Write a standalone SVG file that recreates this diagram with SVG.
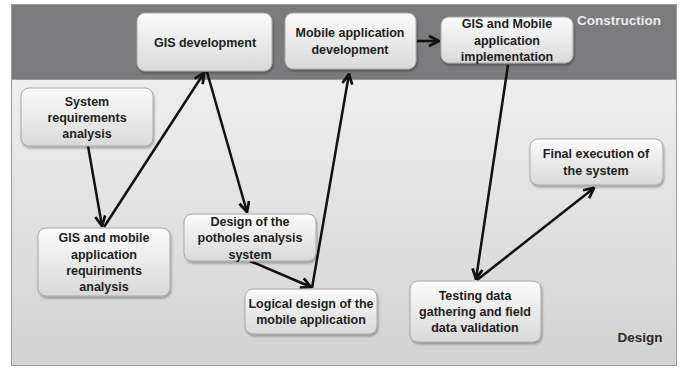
<svg xmlns="http://www.w3.org/2000/svg" width="684" height="369" viewBox="0 0 684 369">
<defs>
<linearGradient id="bg" x1="0" y1="0" x2="0" y2="1">
<stop offset="0" stop-color="#f6f6f6"/>
<stop offset="1" stop-color="#d2d2d3"/>
</linearGradient>
<linearGradient id="box" x1="0" y1="0" x2="0" y2="1">
<stop offset="0" stop-color="#fbfbfb"/>
<stop offset="1" stop-color="#d9d9d9"/>
</linearGradient>
<filter id="sh" x="-10%" y="-10%" width="125%" height="130%">
<feDropShadow dx="1" dy="2" stdDeviation="1.2" flood-color="#000" flood-opacity="0.3"/>
</filter>
<marker id="ah" viewBox="0 0 10 10" refX="9" refY="5" markerWidth="5" markerHeight="5" orient="auto" markerUnits="strokeWidth">
<path d="M1,1 L9,5 L1,9" fill="none" stroke="#111" stroke-width="2.2" stroke-linejoin="miter"/>
</marker>
</defs>
<style>
.node rect{fill:url(#box);stroke:#a8a8a8;stroke-width:1;filter:url(#sh)}
.node text{font-family:"Liberation Sans",Arial,sans-serif;font-weight:bold;font-size:12.5px;fill:#1e1e1e;text-anchor:middle}
.lbl{font-family:"Liberation Sans",Arial,sans-serif;font-weight:bold;font-size:13.5px}
#connectors line{stroke:#111;stroke-width:2.5;marker-end:url(#ah)}
</style>
<g id="background">
<rect x="11.5" y="4.5" width="665" height="361" fill="url(#bg)" stroke="#9a9a9a" stroke-width="1"/>
<rect x="11.5" y="4.5" width="665" height="75" fill="#7b7b7d" stroke="#9a9a9a" stroke-width="1"/>
<text class="lbl" x="619" y="25" text-anchor="middle" fill="#ececec">Construction</text>
<text class="lbl" x="640" y="342" text-anchor="middle" fill="#2a2a2a">Design</text>
</g>
<g id="connectors">
<line x1="88" y1="146" x2="102" y2="226"/>
<line x1="104" y1="227" x2="204" y2="73"/>
<line x1="207" y1="72" x2="247" y2="212"/>
<line x1="250" y1="261" x2="311" y2="287"/>
<line x1="312" y1="288" x2="349" y2="74"/>
<line x1="417" y1="41" x2="439" y2="41"/>
<line x1="508" y1="65" x2="476" y2="279"/>
<line x1="477" y1="280" x2="594" y2="188"/>
</g>
<g id="gis-dev" class="node">
<rect x="137" y="13" width="135" height="58" rx="8"/>
<text x="205" y="47">GIS development</text>
</g>
<g id="mobile-dev" class="node">
<rect x="285" y="13" width="131" height="56" rx="8"/>
<text x="350" y="37">Mobile application</text>
<text x="350" y="54">development</text>
</g>
<g id="impl" class="node">
<rect x="441" y="17" width="132" height="46" rx="8"/>
<text x="507" y="28">GIS and Mobile</text>
<text x="507" y="45">application</text>
<text x="507" y="61">implementation</text>
</g>
<g id="sys-req" class="node">
<rect x="21" y="88" width="132" height="58" rx="8"/>
<text x="87" y="106">System</text>
<text x="87" y="122">requirements</text>
<text x="87" y="138">analysis</text>
</g>
<g id="gis-mobile-req" class="node">
<rect x="38" y="228" width="132" height="68" rx="8"/>
<text x="104" y="242">GIS and mobile</text>
<text x="104" y="259">application</text>
<text x="104" y="275">requiriments</text>
<text x="104" y="291">analysis</text>
</g>
<g id="potholes" class="node">
<rect x="184" y="214" width="132" height="47" rx="8"/>
<text x="250" y="226">Design of the</text>
<text x="250" y="242">potholes analysis</text>
<text x="250" y="259">system</text>
</g>
<g id="logical" class="node">
<rect x="245" y="289" width="132" height="45" rx="8"/>
<text x="311" y="308">Logical design of the</text>
<text x="311" y="324">mobile application</text>
</g>
<g id="testing" class="node">
<rect x="410" y="281" width="131" height="61" rx="8"/>
<text x="475" y="300">Testing data</text>
<text x="475" y="316">gathering and field</text>
<text x="475" y="332">data validation</text>
</g>
<g id="final" class="node">
<rect x="530" y="139" width="133" height="46" rx="8"/>
<text x="596" y="158">Final execution of</text>
<text x="596" y="175">the system</text>
</g>
</svg>
